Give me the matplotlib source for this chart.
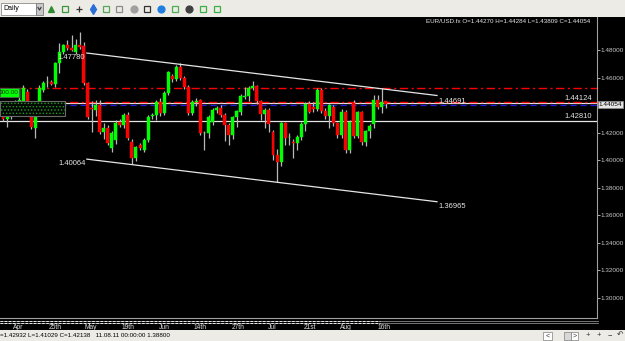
import numpy as np
import matplotlib.pyplot as plt
from matplotlib.patches import Rectangle

plt.rcParams['font.family'] = ['Liberation Sans', 'DejaVu Sans']
plt.rcParams['hatch.linewidth'] = 0.6

# EUR/USD daily candles, late Mar .. 16th Aug 2011
opens = [1.4327, 1.4295, 1.4325, 1.4370, 1.4410, 1.4422, 1.4495, 1.4327, 1.4233, 1.4400,
         1.4509, 1.4565, 1.4567, 1.4553, 1.4705, 1.4785, 1.4836, 1.4815, 1.4785, 1.4836,
         1.4829, 1.4560, 1.4378, 1.4364, 1.4400, 1.4204, 1.4233, 1.4087, 1.4145, 1.4276,
         1.4255, 1.4327, 1.4131, 1.4015, 1.4109, 1.4073, 1.4145, 1.4320, 1.4327, 1.4422,
         1.4342, 1.4487, 1.4611, 1.4589, 1.4676, 1.4596, 1.4531, 1.4342, 1.4422, 1.4436,
         1.4196, 1.4196, 1.4276, 1.4364, 1.4378, 1.4327, 1.4255, 1.4182, 1.4313, 1.4349,
         1.4458, 1.4465, 1.4524, 1.4538, 1.4429, 1.4335, 1.4364, 1.4204, 1.4036, 1.3985,
         1.4269, 1.4165, 1.4131, 1.4124, 1.4167, 1.4262, 1.4407, 1.4385, 1.4371, 1.4509,
         1.4356, 1.4320, 1.4385, 1.4269, 1.4182, 1.4349, 1.4073, 1.4415, 1.4175, 1.4349,
         1.4131, 1.4211, 1.4262, 1.4436, 1.4385, 1.44270]
highs = [1.4345, 1.4340, 1.4400, 1.4440, 1.4470, 1.4545, 1.4515, 1.4345, 1.4335, 1.4545,
         1.4575, 1.4611, 1.4585, 1.4715, 1.4851, 1.4845, 1.4870, 1.4909, 1.4880, 1.4931,
         1.4860, 1.4570, 1.4429, 1.4440, 1.4436, 1.4270, 1.4255, 1.4210, 1.4290, 1.4300,
         1.4345, 1.4350, 1.4150, 1.4105, 1.4125, 1.4160, 1.4330, 1.4345, 1.4440, 1.4450,
         1.4500, 1.4650, 1.4625, 1.4690, 1.4705, 1.4610, 1.4545, 1.4440, 1.4450, 1.4445,
         1.4210, 1.4330, 1.4375, 1.4390, 1.4400, 1.4340, 1.4270, 1.4320, 1.4365, 1.4480,
         1.4531, 1.4535, 1.4575, 1.4545, 1.4440, 1.4375, 1.4380, 1.4220, 1.4080, 1.4280,
         1.4280, 1.4200, 1.4150, 1.4180, 1.4275, 1.4420, 1.4430, 1.4420, 1.4525, 1.4525,
         1.4380, 1.4410, 1.4400, 1.4280, 1.4370, 1.4365, 1.4290, 1.4440, 1.4360, 1.4360,
         1.4220, 1.4260, 1.4473, 1.4470, 1.4524, 1.44284]
lows = [1.4285, 1.4240, 1.4300, 1.4340, 1.4380, 1.4405, 1.4410, 1.4225, 1.4160, 1.4385,
        1.4495, 1.4531, 1.4545, 1.4531, 1.4633, 1.4770, 1.4800, 1.4790, 1.4770, 1.4810,
        1.4545, 1.4300, 1.4204, 1.4320, 1.4190, 1.4150, 1.4110, 1.4060, 1.4120, 1.4240,
        1.4230, 1.4145, 1.3970, 1.3995, 1.4075, 1.4060, 1.4130, 1.4300, 1.4290, 1.4320,
        1.4330, 1.4470, 1.4570, 1.4575, 1.4585, 1.4520, 1.4330, 1.4330, 1.4395, 1.4180,
        1.4073, 1.4160, 1.4255, 1.4345, 1.4310, 1.4140, 1.4109, 1.4150, 1.4240, 1.4330,
        1.4445, 1.4430, 1.4510, 1.4410, 1.4291, 1.4233, 1.4204, 1.4000, 1.3840, 1.3960,
        1.4109, 1.4110, 1.4015, 1.4070, 1.4145, 1.4210, 1.4340, 1.4350, 1.4360, 1.4340,
        1.4300, 1.4233, 1.4250, 1.4160, 1.4160, 1.4050, 1.4050, 1.4160, 1.4160, 1.4110,
        1.4100, 1.4160, 1.4230, 1.4370, 1.4340, 1.43809]
closes = [1.4295, 1.4325, 1.4370, 1.4410, 1.4440, 1.4524, 1.4422, 1.4240, 1.4327, 1.4524,
          1.4560, 1.4569, 1.4553, 1.4705, 1.4785, 1.4836, 1.4815, 1.4800, 1.4836, 1.4822,
          1.4560, 1.4313, 1.4371, 1.4400, 1.4204, 1.4233, 1.4124, 1.4196, 1.4269, 1.4255,
          1.4327, 1.4160, 1.4015, 1.4095, 1.4087, 1.4145, 1.4313, 1.4327, 1.4422, 1.4342,
          1.4487, 1.4640, 1.4589, 1.4676, 1.4596, 1.4531, 1.4342, 1.4422, 1.4429, 1.4196,
          1.4200, 1.4313, 1.4364, 1.4378, 1.4327, 1.4255, 1.4182, 1.4313, 1.4356, 1.4466,
          1.4466, 1.4524, 1.4538, 1.4429, 1.4335, 1.4364, 1.4262, 1.4036, 1.3985, 1.4269,
          1.4160, 1.4170, 1.4124, 1.4167, 1.4262, 1.4407, 1.4349, 1.4371, 1.4509, 1.4356,
          1.4320, 1.4400, 1.4269, 1.4182, 1.4349, 1.4073, 1.4276, 1.4175, 1.4349, 1.4131,
          1.4211, 1.4247, 1.4436, 1.4385, 1.4422, 1.44054]

date_pos = [3.7, 12.9, 21.8, 31.0, 40.0, 48.9, 58.3, 66.7, 76.2, 85.1, 94.5]
date_labels = ['Apr', '25th', 'May', '19th', 'Jun', '14th', '27th', 'Jul', '21st', 'Aug', '16th']
price_ticks = [1.30, 1.32, 1.34, 1.36, 1.38, 1.40, 1.42, 1.46, 1.48]

# user drawn objects
trend_x = [20.8, 107.7]
upper_trend = [1.47780, 1.44691]
lower_trend = [1.40064, 1.36965]
level_top = 1.4521      # red dash-dot
level_mid = 1.4420      # red dash-dot
level_white = 1.44124
level_blue = 1.4400
level_low = 1.42810
last_price = 1.44054

W, H = 625, 341
fig = plt.figure(figsize=(W / 100, H / 100), dpi=100)
fig.patch.set_facecolor('black')

# chart pane: pixels x 0..597, y 17..318
ax = fig.add_axes([0, 1 - 318 / H, 597 / W, (318 - 17) / H])
ax.set_facecolor('black')
ax.set_xlim(-0.744, 147.4)
ax.set_ylim(1.2851, 1.5040)

o = np.array(opens)
c = np.array(closes)
x = np.arange(len(o))
up = c >= o
cols = np.where(up, '#00FF00', '#FF0000')
ax.vlines(x, lows, highs, color='#B8B8B8', lw=0.9, zorder=2)
body = np.maximum(np.abs(c - o), 0.0003)
ax.bar(x, body, bottom=np.minimum(o, c), width=0.74, color=cols,
       edgecolor=cols, linewidth=0.3, zorder=3)

ax.axhline(level_top, color='#FF0000', lw=1, dashes=(6, 2.5, 1.5, 2.5), zorder=1)
ax.axhline(level_white, color='#E6E6E6', lw=0.9, zorder=1)
ax.axhline(level_mid, color='#FF0000', lw=1, dashes=(6, 2.5, 1.5, 2.5), zorder=1)
ax.axhline(level_blue, color='#1A1AE6', lw=0.9, dashes=(5, 3), zorder=1)
ax.axhline(level_low, color='#E6E6E6', lw=0.9, zorder=1)

ax.plot(trend_x, upper_trend, color='#E6E6E6', lw=0.9, zorder=4)
ax.plot(trend_x, lower_trend, color='#E6E6E6', lw=0.9, zorder=4)

lbl = dict(color='#E6E6E6', fontsize=5.5, textcoords='offset points', va='center')
ax.annotate('1.47780', (trend_x[0], upper_trend[0]), xytext=(-1, -3.4), ha='right', **lbl)
ax.annotate('1.40064', (trend_x[0], lower_trend[0]), xytext=(-1, -3.4), ha='right', **lbl)
ax.annotate('1.44691', (trend_x[1], upper_trend[1]), xytext=(0.7, -4), ha='left', **lbl)
ax.annotate('1.36965', (trend_x[1], lower_trend[1]), xytext=(0.7, -3.2), ha='left', **lbl)
ax.annotate('1.44124', (0.992, level_white), xycoords=('axes fraction', 'data'),
            xytext=(0, 3.6), ha='right', **lbl)
ax.annotate('1.42810', (0.992, level_low), xycoords=('axes fraction', 'data'),
            xytext=(0, 3.8), ha='right', **lbl)

for s in ['top', 'left']:
    ax.spines[s].set_visible(False)
for s in ['right', 'bottom']:
    ax.spines[s].set_color('#A0A0A0')
    ax.spines[s].set_linewidth(0.8)

ax.yaxis.tick_right()
ax.set_yticks(price_ticks)
ax.set_yticklabels(['%.5f' % p for p in price_ticks])
ax.tick_params(axis='y', colors='#C8C8C8', labelsize=4.6, length=2, width=0.6, pad=0.5)
ax.set_xticks(date_pos)
ax.set_xticklabels(date_labels)
ax.tick_params(axis='x', colors='#E0E0E0', labelsize=4.8, length=0, pad=4.5)

# current price box on the price scale
ax.annotate('1.44054', (1.0, last_price), xycoords=('axes fraction', 'data'),
            xytext=(1.2, 0), textcoords='offset points', ha='left', va='center',
            fontsize=4.6, color='black',
            bbox=dict(boxstyle='square,pad=0.15', fc='#E4E4E4', ec='#909090', lw=0.5))

ax.text(0.988, 0.995, 'EUR/USD.fx O=1.44270 H=1.44284 L=1.43809 C=1.44054',
        transform=ax.transAxes, ha='right', va='top', fontsize=4.5, color='#E6E6E6')

# window chrome, pixel coordinates
ui = fig.add_axes([0, 0, 1, 1], zorder=5)
ui.set_xlim(0, W)
ui.set_ylim(H, 0)
ui.axis('off')
ui.patch.set_visible(False)

ui.add_patch(Rectangle((0, 0), W, 17, fc='#ECEBE6', ec='none'))
ui.add_patch(Rectangle((1, 2.5), 35, 12, fc='white', ec='#8C8C8C', lw=0.6))
ui.text(3, 8.8, 'Daily', fontsize=5, va='center', color='black')
ui.add_patch(Rectangle((36, 2.5), 7, 12, fc='#C8C8C8', ec='#7A7A7A', lw=0.6))
ui.plot([38, 39.5, 41], [7.5, 10, 7.5], color='#333333', lw=0.8)

icons = [(51, '#2E8B2E', '^'), (65, '#3A9A3A', 's'), (79, '#333333', '+'),
         (93, '#2B6FD6', 'd'), (106, '#5AA85A', 's'), (119, '#8C8C8C', 's'),
         (134, '#A0A0A0', 'o'), (147, '#333333', 's'), (161, '#1E7FE0', 'o'),
         (175, '#4CAF50', 's'), (189, '#404040', 'o'), (203, '#3CB043', 's'),
         (217, '#3CB043', 's')]
for ix, icol, mk in icons:
    ui.plot(ix, 8.5, marker=mk, ms=5, mfc='none' if mk == 's' else icol,
            mec=icol, mew=0.9)

# one-click trading panel on the left of the chart
ui.add_patch(Rectangle((0, 87.5), 21, 10.5, fc='#3A3A3A', ec='none'))
ui.add_patch(Rectangle((0, 88), 18.5, 9, fc='#00FF00', ec='#505050', lw=0.5))
ui.text(9, 92.6, '000.00', fontsize=4.6, ha='center', va='center', color='#0A3A0A')
ui.add_patch(Rectangle((0, 100.5), 65, 15, fc='#040804', ec='#1E9A1E', hatch='.....', lw=0))
ui.add_patch(Rectangle((0, 100.5), 65, 15, fc='none', ec='#6A6A6A', lw=0.8))

# navigation strip under the chart
ui.plot([0, 598], [320.5, 320.5], color='#8A8A8A', lw=0.6)
ui.plot([0, 598], [323, 323], color='#8A8A8A', lw=0.6)
ui.plot([0, 380], [320.5, 320.5], color='white', lw=0.6, dashes=(3, 2))
ui.plot([0, 380], [323, 323], color='white', lw=0.6, dashes=(3, 2))

# status bar
ui.add_patch(Rectangle((0, 330), W, 11, fc='#ECEBE6', ec='none'))
ui.text(0.5, 335.6, '=1.42932 L=1.41029 C=1.42138   11.08.11 00:00:00 1.38800',
        fontsize=4.5, va='center', color='black')
ui.add_patch(Rectangle((543, 331.5), 9, 8.5, fc='white', ec='#7F7F7F', lw=0.5))
ui.text(547.5, 335.8, '<', fontsize=5, ha='center', va='center', color='#333333')
ui.add_patch(Rectangle((564, 331.5), 7, 8.5, fc='#D8D8D8', ec='#7F7F7F', lw=0.5))
ui.add_patch(Rectangle((571, 331.5), 7, 8.5, fc='white', ec='#7F7F7F', lw=0.5))
ui.text(574.5, 335.8, '>', fontsize=5, ha='center', va='center', color='#333333')
for bx, sym in [(588, '+'), (599, '+'), (610, '\u2212'), (620, '\u21b6')]:
    ui.text(bx, 335.8, sym, fontsize=5.5, ha='center', va='center', color='#333333')

fig.savefig('out.png', dpi=100, facecolor=fig.get_facecolor())
